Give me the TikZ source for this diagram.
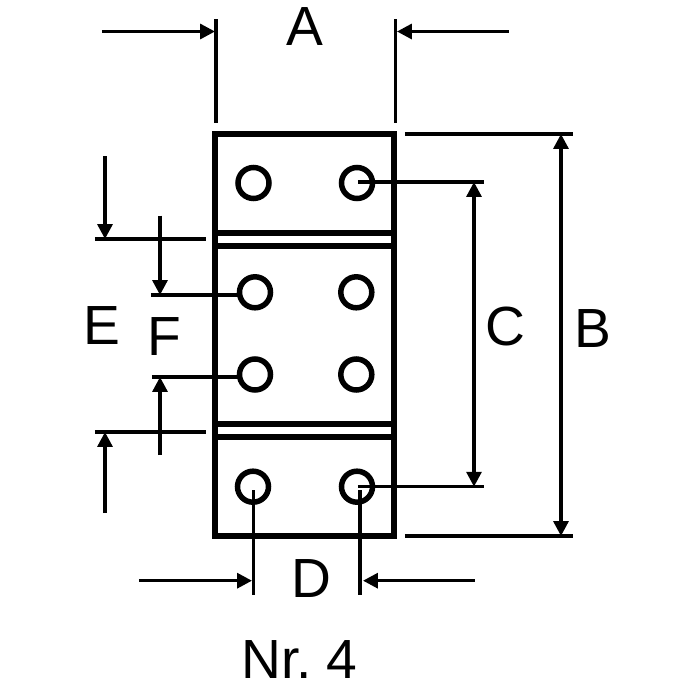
\documentclass[tikz,border=0pt]{standalone}
\usepackage{fontspec}
\setmainfont{Liberation Sans}
\usetikzlibrary{arrows.meta}
\tikzset{
  plate/.style={line width=0.06cm},
  hole/.style={line width=0.055cm},
  dimline/.style={line width=0.033cm},
  dimarrow/.style={dimline,-{Triangle[length=4.2pt,width=4.2pt]}},
  dimboth/.style={dimline,{Triangle[length=4.2pt,width=4.2pt]}-{Triangle[length=4.2pt,width=4.2pt]}},
  dimlabel/.style={inner sep=0pt,font=\fontsize{15.7}{16}\selectfont}
}
\begin{document}
\begin{tikzpicture}
\useasboundingbox (0,0) rectangle (7,7);
      \draw[plate] (2.154,5.665) rectangle (3.94,1.64);
      \draw[plate] (2.154,4.67) -- (3.94,4.67);
      \draw[plate] (2.154,4.545) -- (3.94,4.545);
      \draw[plate] (2.154,2.76) -- (3.94,2.76);
      \draw[plate] (2.154,2.635) -- (3.94,2.635);
      \draw[hole] (2.535,5.17) circle (0.155);
      \draw[hole] (3.57,5.17) circle (0.155);
      \draw[hole] (2.55,4.077) circle (0.155);
      \draw[hole] (3.563,4.077) circle (0.155);
      \draw[hole] (2.55,3.255) circle (0.155);
      \draw[hole] (3.563,3.255) circle (0.155);
      \draw[hole] (2.53,2.133) circle (0.155);
      \draw[hole] (3.57,2.133) circle (0.155);
      \draw[dimline] (2.16,6.81) -- (2.16,5.77);
      \draw[dimline] (3.953,6.81) -- (3.953,5.77);
      \draw[dimarrow] (1.02,6.685) -- (2.15,6.685);
      \draw[dimarrow] (5.09,6.685) -- (3.97,6.685);
      \draw (3.05,6.73) node[dimlabel] (labelA) {A};
      \draw[dimline] (4.05,5.66) -- (5.73,5.66);
      \draw[dimline] (4.05,1.64) -- (5.73,1.64);
      \draw[dimboth] (5.61,5.66) -- (5.61,1.64);
      \draw (5.93,3.71) node[dimlabel] (labelB) {B};
      \draw[dimline] (3.58,5.18) -- (4.84,5.18);
      \draw[dimline] (3.58,2.133) -- (4.84,2.133);
      \draw[dimboth] (4.74,5.18) -- (4.74,2.133);
      \draw (5.05,3.73) node[dimlabel] (labelC) {C};
      \draw[dimline] (2.537,2.097) -- (2.537,1.05);
      \draw[dimline] (3.6,2.097) -- (3.6,1.05);
      \draw[dimarrow] (1.39,1.193) -- (2.52,1.193);
      \draw[dimarrow] (4.75,1.193) -- (3.63,1.193);
      \draw (3.115,1.21) node[dimlabel] (labelD) {D};
      \draw[dimline] (0.95,4.61) -- (2.06,4.61);
      \draw[dimline] (0.95,2.68) -- (2.06,2.68);
      \draw[dimarrow] (1.05,5.44) -- (1.05,4.61);
      \draw[dimarrow] (1.05,1.87) -- (1.05,2.68);
      \draw (1.015,3.74) node[dimlabel] (labelE) {E};
      \draw[dimline] (1.51,4.05) -- (2.4,4.05);
      \draw[dimline] (1.52,3.23) -- (2.4,3.23);
      \draw[dimarrow] (1.6,4.843) -- (1.6,4.05);
      \draw[dimarrow] (1.6,2.45) -- (1.6,3.23);
      \draw (1.64,3.63) node[dimlabel] (labelF) {F};
      \draw (2.995,0.405) node[dimlabel] (title) {\spaceskip=0.18em Nr. 4};
\end{tikzpicture}
\end{document}
